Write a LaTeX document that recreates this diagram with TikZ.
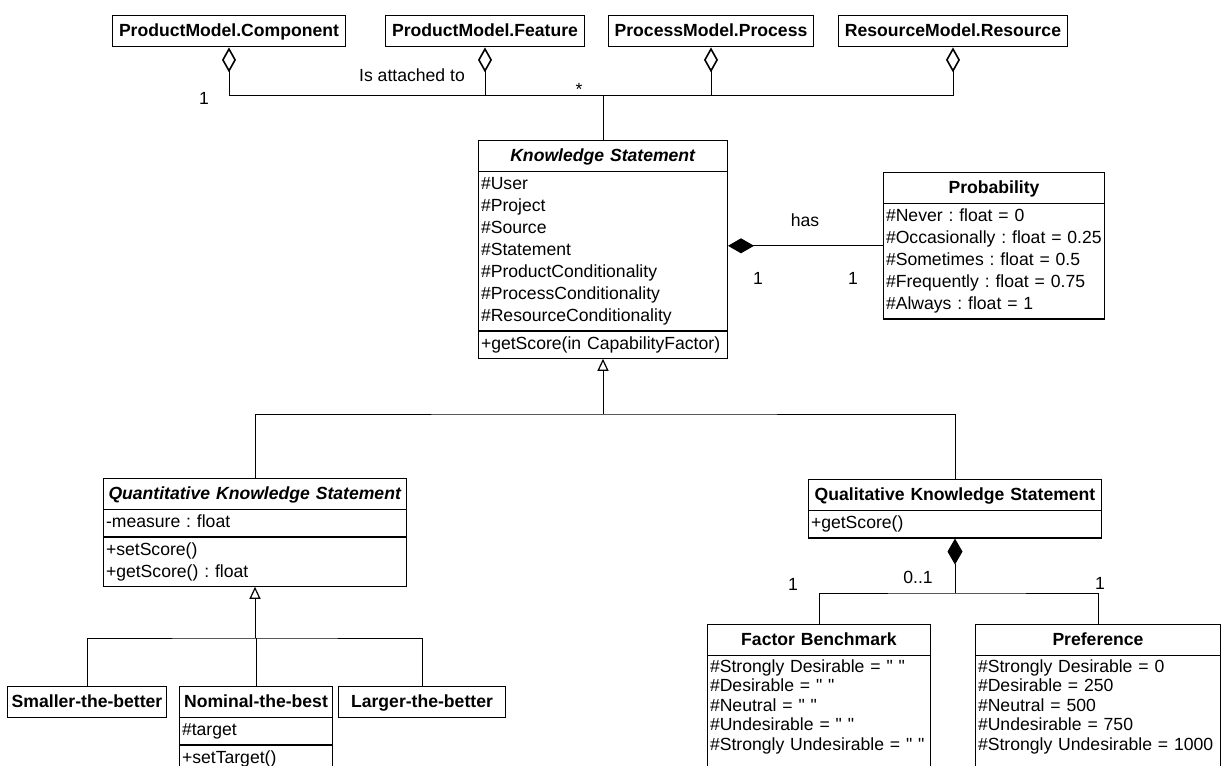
\documentclass[tikz,border=0pt]{standalone}
\usepackage{fontspec}
\setmainfont{Liberation Sans}
\usetikzlibrary{positioning, arrows.meta, shapes.multipart}

\newcommand{\hd}[1]{\makebox[\hsize][c]{\rule[-3.7pt]{0pt}{13pt}\textbf{#1}}}
\newcommand{\ihd}[1]{\makebox[\hsize][c]{\rule[-3.7pt]{0pt}{13pt}\textbf{\itshape #1}}}
\newcommand{\blank}{\textquotedbl\ \textquotedbl}

\begin{document}
\frenchspacing
\begin{tikzpicture}[
    x=0.5pt, y=-0.5pt,
    cls/.style={rectangle split, rectangle split parts=#1, draw, line width=0.6pt, inner xsep=1.2pt, inner ysep=1pt, anchor=north west, align=left, font=\fontsize{8.8pt}{11pt}\selectfont},
    tight/.style={font=\fontsize{8.8pt}{9.75pt}\selectfont},
    link/.style={line width=0.5pt},
    agg/.style={link, arrows={Diamond[open, length=12.5pt, width=7pt, line width=0.8pt]-}},
    compo/.style={link, arrows={Diamond[length=13pt, width=7.5pt]-}},
    gen/.style={link, arrows={-Triangle[open, length=6pt, width=5.5pt, line width=0.6pt]}},
    mult/.style={inner sep=0pt, font=\fontsize{8.8pt}{11pt}\selectfont}
]
    \useasboundingbox (0,0) rectangle (1228,766);
    \clip (0,0) rectangle (1228,766);

    \node[cls=1, text width=114pt] (comp) at (112,15) {\hd{ProductModel.Component}};
    \node[cls=1, text width=97pt] (feat) at (385,15) {\hd{ProductModel.Feature}};
    \node[cls=1, text width=100pt] (proc) at (608,15) {\hd{ProcessModel.Process}};
    \node[cls=1, text width=112pt] (res) at (838,15) {\hd{ResourceModel.Resource}};

    \node[cls=3, text width=122pt] (ks) at (478,140) {\ihd{Knowledge Statement}
        \nodepart{second}\strut\#User\\\#Project\\\#Source\\\#Statement\\\#ProductConditionality\\\#ProcessConditionality\\\#ResourceConditionality\strut
        \nodepart{third}\strut+getScore(in CapabilityFactor)\strut};
    \node[cls=2, text width=108pt] (prob) at (883,172) {\hd{Probability}
        \nodepart{second}\strut\#Never : float = 0\\\#Occasionally : float = 0.25\\\#Sometimes : float = 0.5\\\#Frequently : float = 0.75\\\#Always : float = 1\strut};

    \node[cls=3, text width=149pt] (quant) at (103,478) {\ihd{Quantitative Knowledge Statement}
        \nodepart{second}\strut-measure : float\strut
        \nodepart{third}\strut+setScore()\\+getScore() : float\strut};
    \node[cls=2, text width=144pt] (qual) at (808,479) {\hd{Qualitative Knowledge Statement}
        \nodepart{second}\strut+getScore()\strut};

    \node[cls=1, text width=77pt] (small) at (7,686) {\hd{Smaller-the-better}};
    \node[cls=3, text width=74pt] (nominal) at (179,686) {\hd{Nominal-the-best}
        \nodepart{second}\strut\#target\strut
        \nodepart{third}\strut+setTarget()\strut};
    \node[cls=1, text width=81pt] (large) at (338,686) {\hd{Larger-the-better}};

    \node[cls=2, tight, text width=109pt] (fb) at (707,624) {\hd{Factor Benchmark}
        \nodepart{second}\strut\#Strongly Desirable = \blank\\\#Desirable = \blank\\\#Neutral = \blank\\\#Undesirable = \blank\\\#Strongly Undesirable = \blank\rule[-14pt]{0pt}{14pt}};
    \node[cls=2, tight, text width=120pt] (pref) at (975,624) {\hd{Preference}
        \nodepart{second}\strut\#Strongly Desirable = 0\\\#Desirable = 250\\\#Neutral = 500\\\#Undesirable = 750\\\#Strongly Undesirable = 1000\rule[-14pt]{0pt}{14pt}};

    \coordinate (attach) at (ks.north |- 0,95);
    \coordinate (gen-bus) at (ks.south |- 0,414);
    \coordinate (spec-bus) at (quant.south |- 0,638);
    \coordinate (part-bus) at (qual.south |- 0,593);

    \draw[agg] (comp.south) |- (attach);
    \draw[agg] (feat.south) |- (attach);
    \draw[agg] (proc.south) |- (attach);
    \draw[agg] (res.south) |- (attach);
    \draw[link] (ks.north) -- (attach);

    \draw[compo] (prob.west -| ks.east) -- (prob.west);

    \draw[gen] (gen-bus) -- (ks.south);
    \draw[link] (quant.north) |- (gen-bus) -| (qual.north);

    \draw[gen] (spec-bus) -- (quant.south);
    \draw[link] (small.north) |- (spec-bus) -| (large.north);
    \draw[link] (nominal.north) -- (nominal.north |- spec-bus);

    \draw[compo] (qual.south) -- (part-bus);
    \draw[link] (fb.north) |- (part-bus) -| (pref.north);

    \node[mult] (attach-lbl) at (412,75) {Is attached to};
    \node[mult] (attach-one) at (204,98) {1};
    \node[mult] (attach-many) at (579,89) {*};
    \node[mult] (has-lbl) at (805,220) {has};
    \node[mult] (has-one-a) at (758,278) {1};
    \node[mult] (has-one-b) at (853,278) {1};
    \node[mult] (fb-one) at (793,584) {1};
    \node[mult] (part-opt) at (918,577) {0..1};
    \node[mult] (pref-one) at (1100,583) {1};
\end{tikzpicture}
\end{document}
